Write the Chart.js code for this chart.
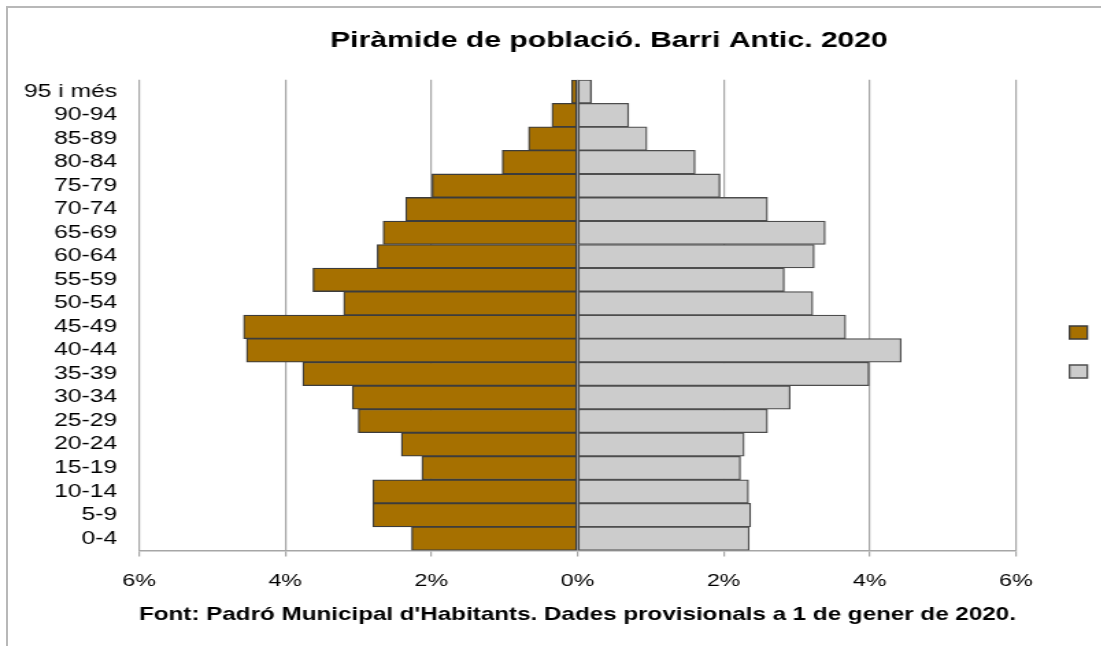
<!DOCTYPE html>
<html>
<head>
<meta charset="utf-8">
<script src="https://cdn.jsdelivr.net/npm/chart.js@4"></script>
<style>
  html, body { margin: 0; padding: 0; background: #fff; overflow: hidden; width: 1101px; height: 646px; }
  #frame { position: absolute; left: 6px; top: 6px; width: 2000px; height: 2000px;
           border-left: 2px solid #b8b8b8; border-top: 2px solid #b8b8b8; }
  #wrap { position: absolute; left: 0; top: 0; width: 900px; height: 646px;
          transform: scaleX(1.37); transform-origin: 0 0; }
</style>
</head>
<body>
<div id="frame"></div>
<div id="wrap"><canvas id="chart" width="900" height="646"></canvas></div>
<script>
// Grups d'edat (de baix a dalt)
const ageGroups = ['0-4', '5-9', '10-14', '15-19', '20-24', '25-29', '30-34', '35-39', '40-44', '45-49',
    '50-54', '55-59', '60-64', '65-69', '70-74', '75-79', '80-84', '85-89', '90-94', '95 i més'];

// % sobre el total de població
const homes = [2.27, 2.80, 2.80, 2.13, 2.41, 3.00, 3.08, 3.76, 4.53, 4.57,
    3.20, 3.62, 2.74, 2.66, 2.35, 1.99, 1.03, 0.67, 0.35, 0.08];
const dones = [2.35, 2.37, 2.34, 2.23, 2.28, 2.60, 2.91, 3.99, 4.43, 3.67,
    3.22, 2.83, 3.24, 3.39, 2.60, 1.95, 1.61, 0.95, 0.70, 0.19];

const xTicks = [-6, -4, -2, 0, 2, 4, 6];

Chart.defaults.font.family = "'Liberation Sans', Arial, sans-serif";
Chart.defaults.color = '#000';

const ctx = document.getElementById('chart').getContext('2d');
new Chart(ctx, {
    type: 'bar',
    data: {
        labels: ageGroups,
        datasets: [{
            label: 'Homes',
            data: homes.map(v => -v),
            backgroundColor: '#A67000',
            borderColor: '#3c3c3c',
            borderWidth: 1.3,
            borderSkipped: false,
        }, {
            label: 'Dones',
            data: dones,
            backgroundColor: '#CCCCCC',
            borderColor: '#4d4d4d',
            borderWidth: 1.3,
            borderSkipped: false,
        }],
    },
    options: {
        indexAxis: 'y',
        responsive: false,
        animation: false,
        devicePixelRatio: 1,
        barPercentage: 1,
        categoryPercentage: 1,
        layout: { padding: { left: 12, right: 23, top: 0, bottom: 20.2 } },
        scales: {
            x: {
                stacked: true,
                min: -6, max: 6,
                afterBuildTicks: s => { s.ticks = xTicks.map(v => ({ value: v })); },
                afterFit: s => { s.height = 45; },
                ticks: {
                    padding: 15,
                    font: { size: 17 },
                    callback: v => Math.abs(v) + '%',
                },
                grid: { color: '#a6a6a6', lineWidth: 1.2, tickLength: 6 },
                border: { color: '#a6a6a6', width: 1.5 },
            },
            x2: {
                axis: 'x',
                position: 'top',
                min: -6, max: 6,
                z: 1,
                afterBuildTicks: s => { s.ticks = [{ value: 0 }]; },
                afterFit: s => { s.height = 0; },
                ticks: { display: false },
                grid: { color: '#a0a0a0', lineWidth: 2.5, drawTicks: false },
                border: { display: false },
            },
            y: {
                stacked: true,
                reverse: true,
                afterFit: s => { s.width = 89.5; },
                ticks: { padding: 16, font: { size: 18 }, autoSkip: false },
                grid: { display: false, drawTicks: false },
                border: { display: false },
            },
            gap: {
                axis: 'y',
                type: 'linear',
                position: 'right',
                afterFit: s => { s.width = 20.1; },
                ticks: { display: false },
                grid: { display: false, drawTicks: false },
                border: { display: false },
            },
        },
        plugins: {
            title: {
                display: true,
                text: 'Piràmide de població. Barri Antic. 2020',
                font: { size: 22, weight: 'bold' },
                color: '#000',
                padding: { top: 27.8, bottom: 25.6 },
            },
            subtitle: {
                display: true,
                position: 'bottom',
                fullSize: false,
                text: "Font: Padró Municipal d'Habitants. Dades provisionals a 1 de gener de 2020.",
                font: { size: 18.5, weight: 'bold' },
                color: '#000',
                padding: { top: 8.2, bottom: 0 },
            },
            legend: {
                position: 'right',
                align: 'center',
                title: { display: true, text: '', font: { size: 12 }, padding: { top: 63.8, bottom: 0 } },
                labels: { boxWidth: 13, boxHeight: 13, padding: 19, font: { size: 20 }, color: '#000' },
            },
            tooltip: { enabled: false },
        },
    },
});
</script>
</body>
</html>
